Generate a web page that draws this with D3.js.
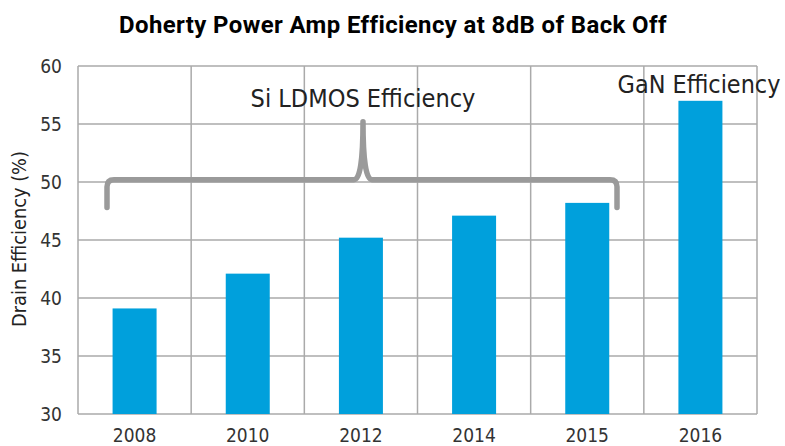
<!DOCTYPE html>
<html><head><meta charset="utf-8">
<script src="https://cdn.jsdelivr.net/npm/d3@7/dist/d3.min.js"></script>
<style>body{margin:0;background:#fff}</style>
</head><body>
<svg id="c" width="785" height="446"></svg>
<script>
const categories = ["2008","2010","2012","2014","2015","2016"];
const values = [39.1, 42.1, 45.2, 47.1, 48.2, 57.0];
const yTicks = [30,35,40,45,50,55,60];
const title = "Doherty Power Amp Efficiency at 8dB of Back Off";
const yLabel = "Drain Efficiency (%)";

const svg = d3.select("#c");
const m = {l:78, r:28, t:66, b:32};
const W = 785, H = 446;
const x = d3.scaleBand().domain(categories).range([m.l, W-m.r]).paddingInner(0).paddingOuter(0);
const y = d3.scaleLinear().domain([30,60]).range([H-m.b, m.t]);
const grid = "#aaaaaa";
const font = "'DejaVu Sans Condensed','DejaVu Sans',sans-serif";

function fit(sel, target, base) {
  sel.attr("font-size", base);
  const w = sel.node().getComputedTextLength();
  if (w > 0) sel.attr("font-size", base * target / w);
  return sel;
}

// horizontal grid
svg.append("g").selectAll("line").data(yTicks).join("line")
  .attr("x1", m.l).attr("x2", W-m.r).attr("y1", d=>y(d)).attr("y2", d=>y(d))
  .attr("stroke", grid).attr("stroke-width", 1.5);
// vertical grid
const vx = categories.map(c=>x(c)).concat([x.range()[1]]);
svg.append("g").selectAll("line").data(vx).join("line")
  .attr("x1", d=>d).attr("x2", d=>d).attr("y1", y(30)).attr("y2", y(60))
  .attr("stroke", grid).attr("stroke-width", 1.5);

// bars
const bw = 44;
svg.append("g").selectAll("rect").data(values).join("rect")
  .attr("x", (d,i)=>x(categories[i]) + x.bandwidth()/2 - bw/2)
  .attr("width", bw)
  .attr("y", d=>y(d)).attr("height", d=>y(30)-y(d))
  .attr("fill", "#00a0dc");

// y tick labels
svg.append("g").selectAll("text").data(yTicks).join("text")
  .attr("x", 62).attr("y", d=>y(d)+7).attr("text-anchor","end")
  .attr("font-family", font).attr("font-size", 19).attr("fill","#333").text(d=>d);
// x tick labels
svg.append("g").selectAll("text").data(categories).join("text")
  .attr("x", d=>x(d)+x.bandwidth()/2).attr("y", H-4).attr("text-anchor","middle")
  .attr("font-family", font).attr("font-size", 19).attr("fill","#333").text(d=>d);

// y label
const yl = svg.append("text").attr("transform", `translate(26,239) rotate(-90)`)
  .attr("text-anchor","middle").attr("font-family", font).attr("fill","#222").text(yLabel);
fit(yl, 176, 18);

// title
const tt = svg.append("text").attr("x", 393).attr("y", 33).attr("text-anchor","middle")
  .attr("font-family","Roboto, 'DejaVu Sans', sans-serif").attr("font-weight","bold")
  .attr("letter-spacing", 0.4).attr("fill","#000").text(title);
fit(tt, 548, 24);

// brace
const bl = 107, br = 617, bc = 363;
const by = y(50.2), bEnd = y(47.8), bPeak = y(55.2);
const r = 7;
const p = d3.path();
p.moveTo(bl, bEnd);
p.lineTo(bl, by + r);
p.quadraticCurveTo(bl, by, bl + r, by);
p.lineTo(bc - 9, by);
p.quadraticCurveTo(bc, by, bc, bPeak);
p.quadraticCurveTo(bc, by, bc + 9, by);
p.lineTo(br - r, by);
p.quadraticCurveTo(br, by, br, by + r);
p.lineTo(br, bEnd);
svg.append("path").attr("d", p.toString()).attr("fill","none")
  .attr("stroke","#9a9a9a").attr("stroke-width",5.5).attr("stroke-linecap","round").attr("stroke-linejoin","round");

// annotations
const a1 = svg.append("text").attr("x", bc).attr("y", 107).attr("text-anchor","middle")
  .attr("font-family", font).attr("fill","#222").text("Si LDMOS Efficiency");
fit(a1, 225, 25);
const a2 = svg.append("text").attr("x", 699).attr("y", 93).attr("text-anchor","middle")
  .attr("font-family", font).attr("fill","#222").text("GaN Efficiency");
fit(a2, 163, 25);
</script>
</body></html>
